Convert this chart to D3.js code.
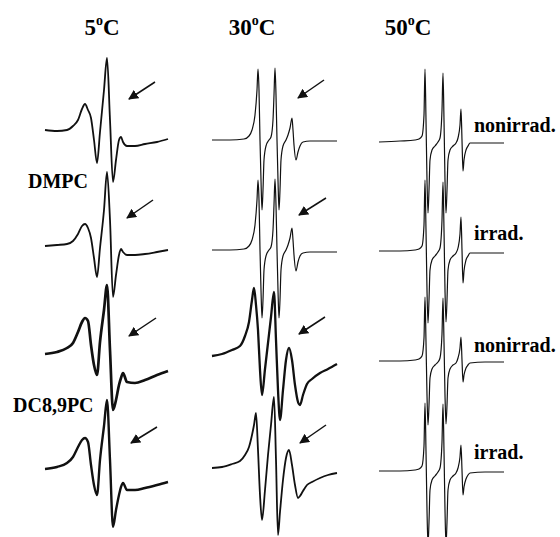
<!DOCTYPE html>
<html>
<head>
<meta charset="utf-8">
<script src="https://cdn.jsdelivr.net/npm/d3@7"></script>
<style>
  body { margin: 0; background: #fff; }
  text { font-family: "Liberation Serif", "Times New Roman", serif; font-weight: bold; fill: #000; }
</style>
</head>
<body>
<div id="chart"></div>
<script>
// temperatures (columns) and samples (rows)
const temps = ["5", "30", "50"];
const rows = ["DMPC nonirrad.", "DMPC irrad.", "DC8,9PC nonirrad.", "DC8,9PC irrad."];
const sideLabels = ["nonirrad.", "irrad.", "nonirrad.", "irrad."];

// field offsets (G) for each spectrum grid
const field5 = [0, 12, 22, 28, 33, 37, 40, 43, 46, 49, 52, 55, 59, 62, 65, 68, 71, 74, 76, 78, 82, 90, 100, 112, 123];
const field30dmpc = [0, 18, 32, 37, 40, 43, 45, 46, 47, 48, 49, 50, 51, 52, 54, 57, 59, 61, 62, 63, 64, 65, 66, 67, 68, 69, 71, 74, 76, 78, 80, 81, 82, 84, 86, 88, 91, 98, 125];
const field30dc = [0, 10, 20, 28, 33, 37, 40, 42, 44, 46, 48, 50, 53, 56, 59, 62, 64, 66, 68, 71, 74, 77, 80, 83, 86, 88, 91, 95, 100, 108, 116, 125];
const field50 = [0, 21, 36, 40, 43, 45, 46, 47, 48, 49, 50, 51, 53, 56, 59, 61, 63, 64, 65, 66, 67, 68, 69, 71, 74, 77, 79, 81, 82, 83, 84, 85, 87, 89, 91, 106, 125];

// signal amplitudes (a.u.)
const amp5_dmpc_non = [10, 9, 10, 14, 20, 31, 36, 30, 22, 0, -23, 8, 50, 82, 20, -42, -20, 0, 3, -2, -6, -6, -4, -2, 1];
const amp5_dmpc_irr = [4, 5, 6, 9, 16, 24, 26, 22, 12, -8, -27, 2, 40, 78, 30, -47, -25, -5, 1, -2, -5, -5, -4, -2, 0];
const amp5_dc_non = [6, 8, 12, 17, 28, 38, 42, 39, 15, -5, -15, 18, 50, 75, 10, -50, -40, -25, -18, -13, -22, -23, -20, -15, -11];
const amp5_dc_irr = [1, 3, 7, 13, 23, 30, 32, 28, 5, -15, -25, 10, 44, 70, 10, -57, -40, -25, -17, -13, -20, -20, -18, -15, -12];

const amp30_dmpc_non = [0, 0, 1, 4, 10, 25, 50, 71, 50, 0, -40, -70, -50, -20, -6, 0, 3, 20, 45, 72, 45, 0, -40, -70, -50, -20, -6, 0, 5, 12, 22, 10, -5, -20, -12, -6, -2, -1, -1];
const amp30_dmpc_irr = [0, 0, 1, 4, 10, 25, 50, 70, 50, 0, -40, -68, -50, -20, -6, 0, 3, 20, 45, 71, 45, 0, -40, -68, -50, -20, -6, 0, 5, 12, 22, 10, -5, -21, -12, -6, -3, -2, -2];
const amp30_dc_non = [4, 6, 10, 14, 24, 38, 60, 72, 55, 30, -10, -35, -9, 17, 43, 68, 20, -30, -60, -30, 0, 12, 0, -25, -42, -45, -35, -24, -19, -13, -9, -4];
const amp30_dc_irr = [2, 3, 6, 9, 15, 23, 35, 45, 57, 20, -25, -50, -20, 15, 45, 73, 10, -65, -42, -10, 12, 20, 5, -15, -28, -26, -21, -15, -12, -8, -5, -3];

const amp50_dmpc_non = [-2, -1, 0, 1, 4, 25, 71, 20, -40, -73, -50, -20, -10, -6, -2, 2, 30, 67, 20, -40, -73, -50, -20, -10, -6, -3, 2, 15, 31, 0, -31, -20, -10, -6, -3, -3, -3];
const amp50_dmpc_irr = [-1, -1, 0, 1, 4, 25, 70, 20, -40, -73, -50, -20, -10, -6, -2, 2, 30, 68, 20, -40, -72, -50, -20, -10, -6, -3, 2, 16, 33, 0, -33, -21, -10, -6, -3, -3, -3];
const amp50_dc_non = [-1, -1, 0, 1, 4, 22, 63, 18, -35, -65, -45, -18, -9, -5, -2, 2, 26, 62, 18, -35, -64, -45, -18, -9, -5, -3, 2, 12, 23, 0, -22, -15, -8, -5, -3, -2, -2];
const amp50_dc_irr = [-1, -1, 0, 1, 4, 24, 67, 19, -40, -75, -52, -20, -10, -6, -2, 2, 28, 66, 19, -40, -75, -52, -20, -10, -6, -3, 2, 13, 25, 0, -25, -17, -9, -5, -3, -2, -2];

// arrows marking the high-field line: [field tail, amp tail, field head, amp head]
const arrows5 = [[110, 58, 84, 41], [108, 50, 82, 32], [111, 42, 84, 24], [112, 43, 86, 27]];
const arrows30 = [[112, 60, 86, 42], [114, 52, 87, 35], [113, 43, 87, 26], [114, 45, 88, 27]];

const W = 560, H = 537;
const svg = d3.select("#chart").append("svg")
  .attr("width", W)
  .attr("height", H);

const colLeft = d3.scalePoint().domain(temps).range([45, 379]);
const rowY = d3.scalePoint().domain(rows).range([140, 470]);

const spectra = [
  {t: "5", r: 0, f: field5, a: amp5_dmpc_non, w: 1.8},
  {t: "5", r: 1, f: field5, a: amp5_dmpc_irr, w: 1.8},
  {t: "5", r: 2, f: field5, a: amp5_dc_non, w: 2.7},
  {t: "5", r: 3, f: field5, a: amp5_dc_irr, w: 2.4},
  {t: "30", r: 0, f: field30dmpc, a: amp30_dmpc_non, w: 1.2},
  {t: "30", r: 1, f: field30dmpc, a: amp30_dmpc_irr, w: 1.2},
  {t: "30", r: 2, f: field30dc, a: amp30_dc_non, w: 2.3},
  {t: "30", r: 3, f: field30dc, a: amp30_dc_irr, w: 1.8},
  {t: "50", r: 0, f: field50, a: amp50_dmpc_non, w: 1.2},
  {t: "50", r: 1, f: field50, a: amp50_dmpc_irr, w: 1.2},
  {t: "50", r: 2, f: field50, a: amp50_dc_non, w: 1.2},
  {t: "50", r: 3, f: field50, a: amp50_dc_irr, w: 1.2}
];

function xScale(t) {
  const left = colLeft(t);
  return d3.scaleLinear().domain([0, 125]).range([left, left + 125]);
}
function yScale(r) {
  const y0 = rowY(rows[r]);
  return d3.scaleLinear().domain([-100, 100]).range([y0 + 100, y0 - 100]);
}

spectra.forEach(s => {
  const x = xScale(s.t), y = yScale(s.r);
  const pts = s.f.map((f, i) => [f, s.a[i]]);
  const line = d3.line()
    .x(d => x(d[0]))
    .y(d => y(d[1]))
    .curve(d3.curveMonotoneX);
  svg.append("path")
    .datum(pts)
    .attr("d", line)
    .attr("fill", "none")
    .attr("stroke", "#111")
    .attr("stroke-width", s.w)
    .attr("stroke-linejoin", "round");
});

// arrows
svg.append("defs").append("marker")
  .attr("id", "head")
  .attr("viewBox", "0 0 10 10")
  .attr("refX", 9).attr("refY", 5)
  .attr("markerWidth", 10).attr("markerHeight", 10)
  .attr("markerUnits", "userSpaceOnUse")
  .attr("orient", "auto")
  .append("path")
  .attr("d", "M0,0 L10,5 L0,10 Z")
  .attr("fill", "#111");

[["5", arrows5], ["30", arrows30]].forEach(([t, arr]) => {
  const x = xScale(t);
  arr.forEach((a, r) => {
    const y = yScale(r);
    svg.append("line")
      .attr("x1", x(a[0])).attr("y1", y(a[1]))
      .attr("x2", x(a[2])).attr("y2", y(a[3]))
      .attr("stroke", "#111")
      .attr("stroke-width", 1.5)
      .attr("marker-end", "url(#head)");
  });
});

// column titles
const titleX = {"5": 102, "30": 252, "50": 408};
temps.forEach(t => {
  const txt = svg.append("text")
    .attr("x", titleX[t])
    .attr("y", 35)
    .attr("text-anchor", "middle")
    .style("font-size", "23px");
  txt.append("tspan").text(t);
  txt.append("tspan").attr("dy", -10).style("font-size", "14px").text("o");
  txt.append("tspan").attr("dy", 10).text("C");
});

// sample labels
svg.append("text").attr("x", 28).attr("y", 188).style("font-size", "20px").text("DMPC");
svg.append("text").attr("x", 13).attr("y", 412).style("font-size", "20px").text("DC8,9PC");

// right labels
const labelY = [132, 240, 352, 459];
sideLabels.forEach((l, i) => {
  svg.append("text")
    .attr("x", 474)
    .attr("y", labelY[i])
    .style("font-size", "20px")
    .text(l);
});
</script>
</body>
</html>
